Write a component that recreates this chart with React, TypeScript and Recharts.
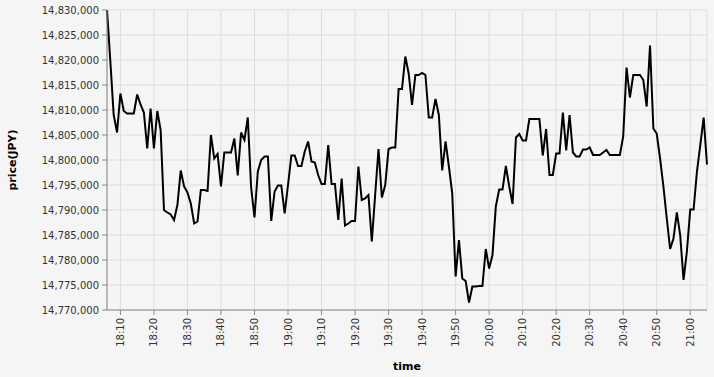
import { LineChart, Line, XAxis, YAxis, CartesianGrid } from 'recharts';

const startTime = '18:06';

const prices = [
  14830000, 14819700, 14809000, 14805500, 14813300, 14809800, 14809300, 14809300, 14809300, 14813100,
  14811100, 14809500, 14802300, 14810300, 14802300, 14809800, 14806000, 14790000, 14789500, 14789100,
  14788000, 14791000, 14797900, 14794700, 14793500, 14791300, 14787300, 14787700, 14794000, 14794000,
  14793800, 14805000, 14800300, 14801200, 14794700, 14801500, 14801500, 14801500, 14804300, 14796900,
  14805500, 14804000, 14808500, 14794500, 14788500, 14797700, 14800000, 14800700, 14800700, 14787800,
  14793700, 14794900, 14794900, 14789300, 14795000, 14800900, 14800900, 14798800, 14798800, 14801700,
  14803700, 14799700, 14799500, 14797000, 14795200, 14795200, 14803000, 14795200, 14795200, 14788000,
  14796300, 14786900, 14787300, 14787800, 14787800, 14798700, 14792000, 14792300, 14793000, 14783700,
  14793000, 14802200, 14792500, 14795000, 14802200, 14802500, 14802500, 14814200, 14814200, 14820700,
  14817300, 14811000, 14817000, 14817000, 14817400, 14817000, 14808500, 14808500, 14812200, 14809000,
  14797900, 14803700, 14798700, 14793300, 14776700, 14784000, 14776300, 14775800, 14771500, 14774700,
  14774700, 14774800, 14774800, 14782200, 14778300, 14781000, 14790700, 14794100, 14794100, 14798800,
  14794700, 14791200, 14804500, 14805200, 14803900, 14803900, 14808200, 14808200, 14808200, 14808200,
  14800900, 14806200, 14797000, 14797000, 14801300, 14801300, 14809500, 14801900, 14809000, 14801500,
  14800700, 14800700, 14802100, 14802100, 14802500, 14801000, 14801000, 14801000, 14801500, 14802000,
  14801000, 14801000, 14801000, 14801000, 14804700, 14818500, 14812500, 14817000, 14817000, 14817000,
  14816000, 14810700, 14822900, 14806300, 14805300, 14800300, 14794700, 14788300, 14782200, 14784300,
  14789500, 14785000, 14776000, 14781700, 14790100, 14790100, 14797700, 14803000, 14808500, 14799100,
];

const timeTicks = [
  '18:10', '18:20', '18:30', '18:40', '18:50', '19:00', '19:10', '19:20', '19:30',
  '19:40', '19:50', '20:00', '20:10', '20:20', '20:30', '20:40', '20:50', '21:00',
];

const priceTicks = [
  14770000, 14775000, 14780000, 14785000, 14790000, 14795000, 14800000,
  14805000, 14810000, 14815000, 14820000, 14825000, 14830000,
];

const toMinutes = (s: string) => {
  const [h, m] = s.split(':').map(Number);
  return h * 60 + m;
};

const fmtTime = (v: number) => {
  const h = Math.floor(v / 60);
  const m = v % 60;
  return `${h}:${String(m).padStart(2, '0')}`;
};

const start = toMinutes(startTime);
const data = prices.map((price, i) => ({ t: start + i, price }));

const XTick = (props: any) => {
  const { x, y, payload } = props;
  return (
    <g transform={`translate(${x},${y})`}>
      <text transform="rotate(-90)" textAnchor="end" dy={3.5} fontSize={10} fill="#333">
        {fmtTime(payload.value)}
      </text>
    </g>
  );
};

const YTitle = () => (
  <text x={16} y={160} transform="rotate(-90, 16, 160)" textAnchor="middle"
    fontSize={11} fontWeight="bold" fill="#000">
    price(JPY)
  </text>
);

export default function App() {
  return (
    <div style={{ position: 'absolute', left: 0, top: 0, width: 714, height: 377, background: '#f5f5f5' }}>
      <LineChart
        width={714}
        height={377}
        data={data}
        margin={{ top: 10, right: 7, bottom: 0, left: 0 }}
        style={{ fontFamily: 'DejaVu Sans, sans-serif' }}
      >
        <CartesianGrid stroke="#ddd" strokeWidth={1} />
        <XAxis
          dataKey="t"
          type="number"
          domain={['dataMin', 'dataMax']}
          ticks={timeTicks.map(toMinutes)}
          tick={<XTick />}
          tickSize={5}
          tickMargin={3}
          height={67}
          stroke="#888"
          interval={0}
          label={{ value: 'time', position: 'insideBottom', offset: 7, fontSize: 11, fontWeight: 'bold', fill: '#000' }}
        />
        <YAxis
          type="number"
          domain={[14770000, 14830000]}
          ticks={priceTicks}
          tickFormatter={(v: number) => v.toLocaleString('en-US')}
          tick={{ fontSize: 10, fill: '#333' }}
          tickSize={5}
          tickMargin={3}
          width={107}
          stroke="#888"
          interval={0}
          allowDataOverflow
          label={<YTitle />}
        />
        <Line
          type="linear"
          dataKey="price"
          stroke="#000"
          strokeWidth={2}
          dot={false}
          isAnimationActive={false}
        />
      </LineChart>
    </div>
  );
}
